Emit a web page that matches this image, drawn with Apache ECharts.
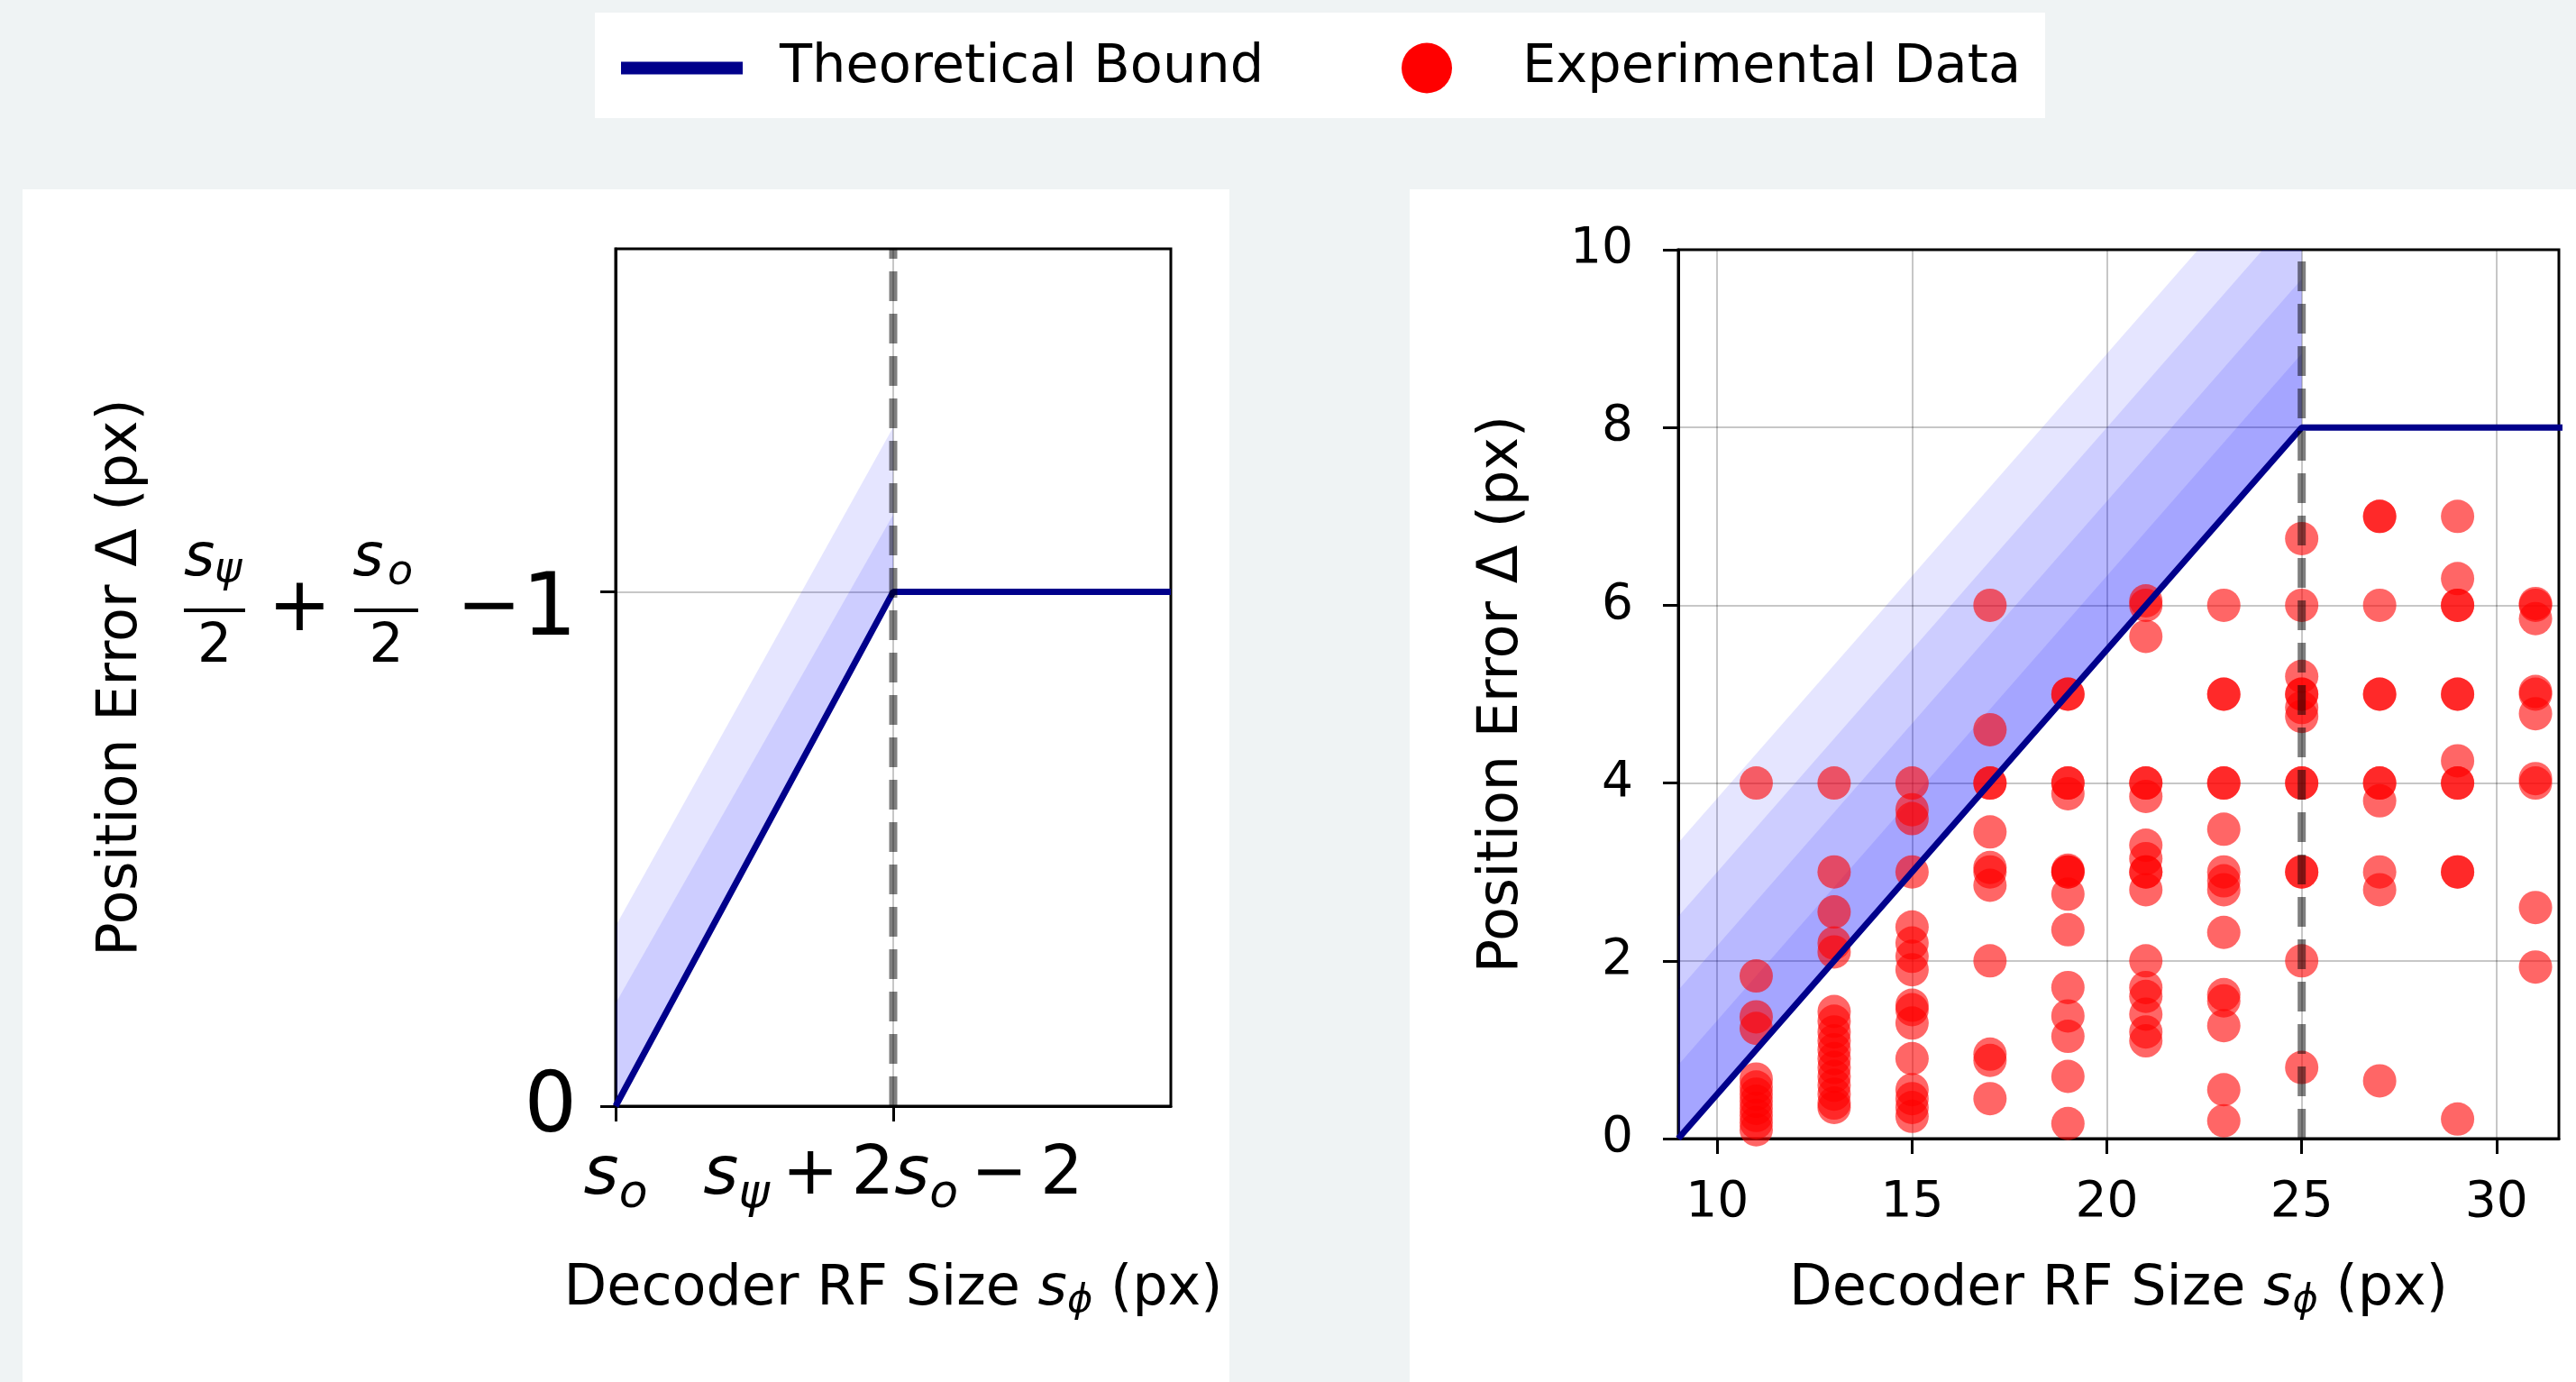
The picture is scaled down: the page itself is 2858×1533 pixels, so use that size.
<!DOCTYPE html>
<html>
<head>
<meta charset="utf-8">
<script src="https://cdn.jsdelivr.net/npm/echarts@6/dist/echarts.min.js"></script>
<style>
html,body{margin:0;padding:0;background:#eff3f4;}
#c{width:2858px;height:1533px;}
</style>
</head>
<body>
<div id="c"></div>
<script>
// ================= DATA =================
// Left schematic panel (normalised units: s_o at x=0, knee at x=1, knee height = 1)
const leftBoundX = [0, 1, 2];
const leftBoundY = [0, 1, 1];
const leftKneeX = 1;
const leftXMax = 2;
const leftYMax = 5 / 3;
const leftBandX = [0, 1];
const leftBandLower = [0, 1];
const leftBandUpperInner = [0.2, 1.15];
const leftBandUpperOuter = [0.35, 1.32];
const leftXTicks = [0, 1];
const leftYTicks = [0, 1];

// Right panel: theoretical bound
const rightBoundX = [9, 25, 32];
const rightBoundY = [0, 8, 8];
const rightKneeX = 25;
const rightXMin = 9;
const rightXMax = 31.6;
const rightYMax = 10;
const rightBandX = [9, 25];
const rightBandLower = [0, 8];
const rightBandOffsets = [0.83, 1.67, 2.5, 3.33];
const rightXTicks = [10, 15, 20, 25, 30];

// Right panel: experimental data (decoder RF size -> position errors)
const expSizes = [11, 13, 15, 17, 19, 21, 23, 25, 27, 29, 31];
const err11 = [4.0, 1.83, 1.37, 1.24, 0.67, 0.58, 0.5, 0.42, 0.34, 0.26, 0.18, 0.1];
const err13 = [4.0, 3.0, 2.55, 2.2, 2.1, 1.43, 1.32, 1.2, 1.1, 1.0, 0.9, 0.8, 0.7, 0.6, 0.5, 0.4, 0.35];
const err15 = [4.0, 3.7, 3.6, 3.0, 2.38, 2.2, 2.05, 1.9, 1.5, 1.45, 1.3, 0.9, 0.55, 0.45, 0.35, 0.25];
const err17 = [6.0, 4.6, 4.0, 4.0, 3.45, 3.05, 3.0, 2.85, 2.0, 0.95, 0.88, 0.45];
const err19 = [5.0, 5.0, 4.0, 4.0, 3.88, 3.02, 3.0, 3.0, 2.75, 2.35, 1.7, 1.38, 1.15, 0.7, 0.17];
const err21 = [6.05, 6.0, 5.65, 4.0, 4.0, 3.85, 3.3, 3.15, 3.0, 3.0, 2.8, 2.0, 1.7, 1.6, 1.4, 1.2, 1.1];
const err23 = [6.0, 5.0, 5.0, 4.0, 4.0, 3.48, 3.0, 2.9, 2.8, 2.32, 1.62, 1.55, 1.27, 0.55, 0.2];
const err25 = [6.75, 6.0, 5.2, 5.0, 5.0, 4.85, 4.75, 4.0, 4.0, 3.0, 3.0, 2.0, 0.8];
const err27 = [7.0, 7.0, 6.0, 5.0, 5.0, 4.0, 4.0, 3.8, 3.0, 2.8, 0.65];
const err29 = [7.0, 6.3, 6.0, 6.0, 5.0, 5.0, 4.25, 4.0, 4.0, 3.0, 3.0, 0.22];
const err31 = [6.02, 6.0, 5.85, 5.03, 5.0, 4.78, 4.05, 4.0, 2.6, 1.93];
const expErrors = [err11, err13, err15, err17, err19, err21, err23, err25, err27, err29, err31];

// ================= STYLE =================
const FONT = 'DejaVu Sans';
const NAVY = '#00008B';
const BAND_FILL = 'rgba(0,0,255,0.1)';
const GRID_LINE = 'rgba(0,0,0,0.22)';

const zip = (xs, ys) => xs.map((x, i) => [x, ys[i]]);
const scatterData = [];
expSizes.forEach((s, i) => expErrors[i].forEach(e => scatterData.push([s, e])));

function clipPoly(pts, x0, y0, x1, y1) {
  const edge = (poly, inside, cut) => {
    const out = [];
    for (let i = 0; i < poly.length; i++) {
      const cur = poly[i], prev = poly[(i + poly.length - 1) % poly.length];
      const ci = inside(cur), pi = inside(prev);
      if (ci) { if (!pi) out.push(cut(prev, cur)); out.push(cur); }
      else if (pi) out.push(cut(prev, cur));
    }
    return out;
  };
  const cx = (a, b, x) => [x, a[1] + (b[1] - a[1]) * (x - a[0]) / (b[0] - a[0])];
  const cy = (a, b, y) => [a[0] + (b[0] - a[0]) * (y - a[1]) / (b[1] - a[1]), y];
  let p = pts;
  p = edge(p, q => q[0] >= x0, (a, b) => cx(a, b, x0));
  p = edge(p, q => q[0] <= x1, (a, b) => cx(a, b, x1));
  p = edge(p, q => q[1] >= y0, (a, b) => cy(a, b, y0));
  p = edge(p, q => q[1] <= y1, (a, b) => cy(a, b, y1));
  return p;
}

function band(gridIdx, xs, lower, upper) {
  return {
    type: 'custom', xAxisIndex: gridIdx, yAxisIndex: gridIdx, silent: true, z: 1,
    data: [[xs[0], lower[0]]],
    renderItem: (params, api) => {
      const pts = [];
      for (let i = 0; i < xs.length; i++) pts.push(api.coord([xs[i], lower[i]]));
      for (let i = xs.length - 1; i >= 0; i--) pts.push(api.coord([xs[i], upper[i]]));
      const r = params.coordSys;
      const poly = clipPoly(pts, r.x, r.y, r.x + r.width, r.y + r.height);
      return { type: 'polygon', shape: { points: poly }, style: { fill: BAND_FILL } };
    }
  };
}

const series = [];
series.push(band(0, leftBandX, leftBandLower, leftBandUpperInner));
series.push(band(0, leftBandX, leftBandLower, leftBandUpperOuter));
rightBandOffsets.forEach(off => {
  series.push(band(1, rightBandX, rightBandLower, rightBandLower.map(v => v + off)));
});
series.push({
  name: 'Experimental Data', type: 'scatter', xAxisIndex: 1, yAxisIndex: 1, z: 2,
  symbolSize: 37, data: scatterData, silent: true,
  itemStyle: { color: '#ff0000', opacity: 0.6, borderWidth: 0 }
});
series.push({
  name: 'Theoretical Bound', type: 'line', xAxisIndex: 0, yAxisIndex: 0, z: 4,
  data: zip(leftBoundX, leftBoundY), showSymbol: false, symbol: 'none', silent: true,
  color: NAVY, lineStyle: { color: NAVY, width: 7 }
});
series.push({
  name: 'Theoretical Bound', type: 'line', xAxisIndex: 1, yAxisIndex: 1, z: 4,
  data: zip(rightBoundX, rightBoundY), showSymbol: false, symbol: 'none', silent: true, clip: true,
  color: NAVY, lineStyle: { color: NAVY, width: 7 }
});
series.push({
  type: 'line', xAxisIndex: 0, yAxisIndex: 0, z: 5, symbol: 'none', silent: true,
  data: [[leftKneeX, 0], [leftKneeX, leftYMax]],
  lineStyle: { color: 'rgba(0,0,0,0.5)', width: 9, type: [33, 14] }
});
series.push({
  type: 'line', xAxisIndex: 1, yAxisIndex: 1, z: 5, symbol: 'none', silent: true,
  data: [[rightKneeX, 0], [rightKneeX, rightYMax]],
  lineStyle: { color: 'rgba(0,0,0,0.5)', width: 9, type: [33, 14] }
});

// ---- rich text for math labels ----
const C = '#000';
const rich = {
  big: { fontSize: 92, fontFamily: FONT, color: C, padding: [8, 0, 0, 0] },
  sp: { width: 436, lineHeight: 13 },
  fs: { width: 34, align: 'left', fontSize: 66, fontStyle: 'italic', fontFamily: FONT, color: C, lineHeight: 56 },
  fs2: { width: 31, align: 'left', fontSize: 66, fontStyle: 'italic', fontFamily: FONT, color: C, lineHeight: 56 },
  fsub1: { width: 34, align: 'left', fontSize: 46, fontStyle: 'italic', fontFamily: FONT, color: C, lineHeight: 56, padding: [24, 0, 0, 0] },
  fsub2: { width: 40, align: 'left', fontSize: 46, fontStyle: 'italic', fontFamily: FONT, color: C, lineHeight: 56, padding: [30, 0, 0, 0] },
  fgap: { width: 121, lineHeight: 56 },
  ftail: { width: 176, lineHeight: 56 },
  bar1: { width: 68, height: 4, backgroundColor: C },
  bar2: { width: 71, height: 4, backgroundColor: C },
  plus: { width: 121, align: 'center', fontSize: 84, fontFamily: FONT, color: C, lineHeight: 56 },
  tgap: { width: 46, lineHeight: 56 },
  minus: { width: 65, align: 'left', fontSize: 86, fontFamily: FONT, color: C, lineHeight: 56 },
  g2: { width: 4, lineHeight: 56 },
  one: { width: 61, align: 'left', fontSize: 96, fontFamily: FONT, color: C, lineHeight: 56, padding: [4, 0, 0, 0] },
  d1: { width: 68, align: 'center', fontSize: 60, fontFamily: FONT, color: C, lineHeight: 28 },
  d2: { width: 71, align: 'center', fontSize: 60, fontFamily: FONT, color: C, lineHeight: 28 },
  dgap: { width: 121, lineHeight: 28 },
  dtail: { width: 176, lineHeight: 28 },
  li: { fontSize: 75, fontStyle: 'italic', fontFamily: FONT, color: C, lineHeight: 80 },
  ls: { fontSize: 52, fontStyle: 'italic', fontFamily: FONT, color: C, lineHeight: 80, padding: [40, 0, 0, 0] },
  lr: { fontSize: 75, fontFamily: FONT, color: C, lineHeight: 80 },
  lsp: { width: 14, lineHeight: 80 }
};
const fracLabel =
  '{sp| }\n' +
  '{fs|s}{fsub1|ψ}{fgap| }{fs2|s}{fsub2|o}{ftail| }\n' +
  '{bar1| }{plus|+}{bar2| }{tgap| }{minus|−}{g2| }{one|1}\n' +
  '{d1|2}{dgap| }{d2|2}{dtail| }';
const kneeXLabel = '{li|s}{ls|ψ}{lsp| }{lr|+}{lsp| }{lr|2}{li|s}{ls|o}{lsp| }{lr|−}{lsp| }{lr|2}';

const nameRich = {
  n: { fontSize: 62, fontFamily: FONT, color: C, lineHeight: 75 },
  ni: { fontSize: 62, fontStyle: 'italic', fontFamily: FONT, color: C, lineHeight: 75 },
  ns: { fontSize: 43, fontStyle: 'italic', fontFamily: FONT, color: C, lineHeight: 75, padding: [26, 0, 0, 0] }
};
const xName = '{n|Decoder RF Size }{ni|s}{ns|ϕ}{n| (px)}';
const yName = 'Position Error Δ (px)';

const axisLineStyle = { show: true, lineStyle: { color: C, width: 3 } };
const tickStyle = { show: true, inside: false, length: 17, lineStyle: { color: C, width: 3 } };

const option = {
  backgroundColor: '#eff3f4',
  animation: false,
  textStyle: { fontFamily: FONT },
  graphic: [
    { type: 'rect', z: -10, shape: { x: 660, y: 14, width: 1609, height: 117 }, style: { fill: '#ffffff' } },
    { type: 'rect', z: -10, shape: { x: 25, y: 210, width: 1339, height: 1323 }, style: { fill: '#ffffff' } },
    { type: 'rect', z: -10, shape: { x: 1564, y: 210, width: 1294, height: 1323 }, style: { fill: '#ffffff' } }
  ],
  legend: [
    {
      data: [{ name: 'Theoretical Bound', icon: 'rect', itemStyle: { color: NAVY, opacity: 1 } }],
      left: 689, top: 46, padding: 0, selectedMode: false,
      itemWidth: 135, itemHeight: 14,
      textStyle: { fontSize: 59, fontFamily: FONT, color: C, padding: [0, 0, 0, 36] }
    },
    {
      data: [{ name: 'Experimental Data', icon: 'circle', itemStyle: { color: '#ff0000', opacity: 1 } }],
      left: 1555, top: 46, padding: 0, selectedMode: false,
      itemWidth: 56, itemHeight: 56,
      textStyle: { fontSize: 59, fontFamily: FONT, color: C, padding: [0, 0, 0, 73] }
    }
  ],
  grid: [
    { left: 683, top: 276, width: 616, height: 951, show: true, borderColor: C, borderWidth: 3, backgroundColor: 'transparent', outerBoundsMode: 'none' },
    { left: 1862, top: 277, width: 977, height: 986, show: true, borderColor: C, borderWidth: 3, backgroundColor: 'transparent', outerBoundsMode: 'none' }
  ],
  xAxis: [
    {
      type: 'value', gridIndex: 0, min: 0, max: leftXMax,
      axisLine: axisLineStyle,
      axisTick: Object.assign({ customValues: leftXTicks }, tickStyle),
      axisLabel: {
        customValues: leftXTicks, margin: 38, rich: rich,
        formatter: v => v === 0 ? '{li|s}{ls|o}' : kneeXLabel
      },
      splitLine: { show: true, lineStyle: { color: GRID_LINE, width: 2 } },
      name: xName, nameLocation: 'middle', nameGap: 166, nameTextStyle: { rich: nameRich }
    },
    {
      type: 'value', gridIndex: 1, min: rightXMin, max: rightXMax,
      axisLine: axisLineStyle,
      axisTick: Object.assign({ customValues: rightXTicks }, tickStyle),
      axisLabel: { customValues: rightXTicks, margin: 44, fontSize: 55, color: C, fontFamily: FONT },
      splitLine: { show: true, lineStyle: { color: GRID_LINE, width: 2 } },
      name: xName, nameLocation: 'middle', nameGap: 130, nameTextStyle: { rich: nameRich }
    }
  ],
  yAxis: [
    {
      type: 'value', gridIndex: 0, min: 0, max: leftYMax,
      axisLine: axisLineStyle,
      axisTick: Object.assign({ customValues: leftYTicks }, tickStyle),
      axisLabel: {
        customValues: leftYTicks, margin: 43, rich: rich,
        formatter: v => v === 0 ? '{big|0}' : fracLabel
      },
      splitLine: { show: true, lineStyle: { color: GRID_LINE, width: 2 } },
      name: yName, nameLocation: 'middle', nameRotate: 90, nameGap: 517,
      nameTextStyle: { fontSize: 62, color: C, fontFamily: FONT, lineHeight: 62 }
    },
    {
      type: 'value', gridIndex: 1, min: 0, max: rightYMax, interval: 2,
      axisLine: axisLineStyle,
      axisTick: tickStyle,
      axisLabel: { margin: 50, fontSize: 55, color: C, fontFamily: FONT },
      splitLine: { show: true, lineStyle: { color: GRID_LINE, width: 2 } },
      name: yName, nameLocation: 'middle', nameRotate: 90, nameGap: 164,
      nameTextStyle: { fontSize: 62, color: C, fontFamily: FONT, lineHeight: 62 }
    }
  ],
  series: series
};

const chart = echarts.init(document.getElementById('c'), null, { renderer: 'canvas', width: 2858, height: 1533 });
chart.setOption(option);
</script>
</body>
</html>
